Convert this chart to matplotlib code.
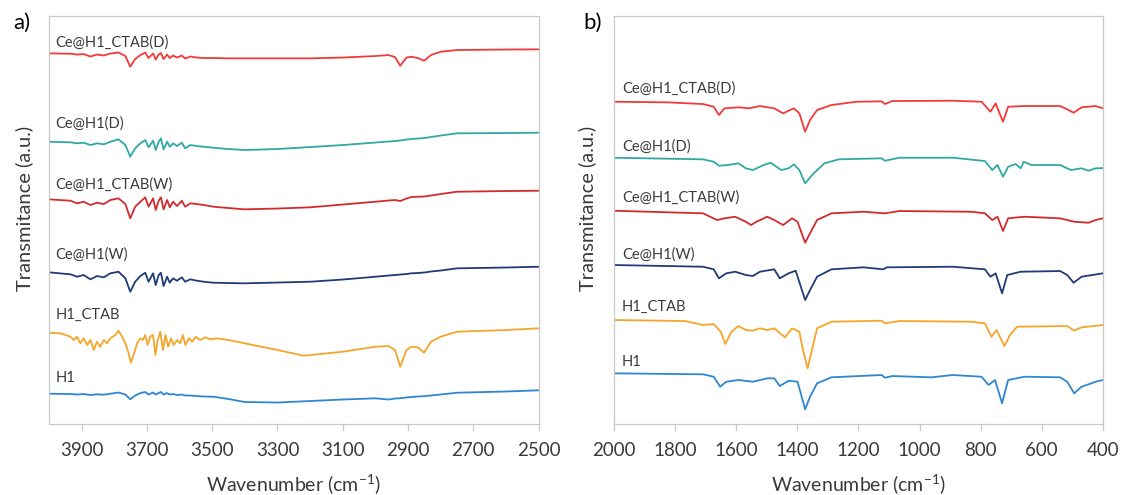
import matplotlib
matplotlib.use('Agg')
import matplotlib.pyplot as plt

plt.rcParams['font.family'] = ['Lato', 'DejaVu Sans']
plt.rcParams['mathtext.fontset'] = 'custom'
plt.rcParams['mathtext.rm'] = 'Lato'

# ---- panel a) 4000-2500 cm-1, shared wavenumber grid ----
wn_a = [4000, 3934, 3914, 3894, 3873, 3853, 3832, 3812, 3787, 3766,
        3751, 3736, 3720, 3705, 3695, 3681, 3673, 3664, 3657, 3649,
        3638, 3630, 3620, 3608, 3593, 3583, 3567, 3547, 3526, 3496,
        3450, 3400, 3300, 3200, 3100, 3000, 2960, 2940, 2924, 2905,
        2890, 2870, 2851, 2830, 2800, 2750, 2600, 2500]

a_ctab_d = [370.7, 370.3, 369.5, 370, 367.5, 369.5, 368.5, 370.5, 371.5, 368,
            357.3, 365, 369, 371.5, 366, 370.5, 364.5, 369.5, 371, 365,
            369.5, 366, 368.5, 366.5, 368.5, 365.5, 367.5, 366.5, 366, 366,
            365.7, 365.7, 365.7, 365.7, 366.5, 368, 369, 367, 358.3, 366.5,
            367.3, 366, 363.3, 369, 372.3, 374, 374.5, 374.7]
a_h1_d = [282.3, 281.7, 280.7, 281.3, 279, 280.7, 279.7, 282.3, 284.7, 279,
          267.3, 275.7, 280.7, 284, 276.7, 283.3, 274, 282.3, 285.7, 274.7,
          282.3, 277.3, 280.7, 278, 281.3, 275.7, 279, 278, 277.3, 276.3,
          275, 274, 275, 277, 279, 281.5, 282.5, 283, 283.5, 284.5,
          285, 285.5, 286, 287, 288.5, 290.7, 291, 291.3]
a_ctab_w = [224.7, 223.3, 220.7, 222.3, 219, 221.3, 220, 224, 225.7, 220,
            205.7, 217.3, 222.3, 226.7, 217.3, 225.7, 214, 223.3, 226.7, 214.7,
            224, 216.7, 222.3, 218, 223.3, 217.3, 220.7, 220, 219, 217.3,
            216, 214.7, 215.5, 216.7, 219.5, 222.3, 223.5, 224, 223, 225.5,
            227, 227.3, 227.5, 228.5, 230, 232.3, 233, 233.3]
a_h1_w = [151.7, 149.7, 147.3, 149, 144.7, 148, 146.7, 150.7, 152.3, 145.7,
          132.3, 142.3, 148, 151.3, 142.3, 150.7, 139, 149, 151.3, 138,
          147.3, 141.3, 145.7, 143.3, 146.7, 142.3, 144.7, 143.3, 142.3, 141.3,
          141, 140.7, 141.5, 142.3, 144.5, 147.3, 148.5, 149, 149.5, 150,
          150.7, 151, 151.5, 152.5, 153.5, 155.7, 156.5, 157.3]
a_h1 = [30.3, 30, 29.5, 30, 29, 29.7, 29.3, 30.3, 31.5, 29.5,
        24.7, 28.5, 31, 32, 29.5, 31.5, 29.5, 31, 32, 29.5,
        31, 29.5, 30, 29, 29.5, 28.5, 28.5, 28, 27.5, 27.3,
        25, 22, 21.5, 23, 24.5, 25.7, 24.5, 25.5, 25.8, 26.5,
        27, 27.5, 27.8, 28.5, 29.5, 31.3, 32.5, 33.7]

# H1_CTAB has its own, denser grid (strongest water-vapour wiggles)
wn_a_ctab = [4000, 3965, 3934, 3924, 3914, 3904, 3894, 3883, 3873, 3863,
             3853, 3843, 3832, 3822, 3812, 3797, 3787, 3776, 3766, 3756,
             3749, 3741, 3730, 3720, 3712, 3705, 3698, 3690, 3681, 3674,
             3667, 3659, 3651, 3643, 3635, 3626, 3618, 3608, 3598, 3590,
             3582, 3571, 3561, 3551, 3537, 3521, 3506, 3485, 3450, 3400,
             3300, 3220, 3100, 3000, 2960, 2940, 2924, 2905, 2890, 2870,
             2851, 2830, 2800, 2750, 2600, 2500]
a_h1_ctab = [91.3, 90.7, 87.3, 84, 87.3, 80.7, 85.7, 79, 84, 74,
             82.3, 77.3, 84, 80.7, 85.7, 89, 93.3, 87.3, 80.7, 70.7,
             61.3, 69, 80.7, 85.7, 84, 89, 79, 87.3, 89, 69,
             84, 92.3, 74, 89, 77.3, 85.7, 79, 84, 80.7, 89,
             79, 85.7, 82.3, 87.3, 84, 86.7, 84.7, 85.7, 84, 80.7,
             74, 68.3, 72.3, 77.3, 78, 74, 57.3, 74, 77.3, 76.7,
             71.3, 82.3, 87.3, 92.3, 94, 95.7]

# ---- panel b) 2000-400 cm-1 ----
wn_b_ctab_d = [2000, 1825, 1708, 1673, 1656, 1638, 1592, 1557, 1522, 1475,
               1446, 1411, 1393, 1374, 1358, 1335, 1288, 1206, 1124, 1113,
               1089, 891, 797, 768, 751, 727, 710, 657, 540, 517,
               496, 470, 424, 400]
b_ctab_d = [322.3, 321.7, 320, 317.3, 309, 315.7, 316.7, 315.7, 318, 315.7,
            310.7, 315.7, 310.7, 292.3, 304, 314, 319, 322.3, 322.7, 320,
            323, 323.3, 322.3, 312.3, 320.7, 302.3, 317.3, 318, 318, 314.7,
            311.3, 316.7, 318, 315.7]

wn_b_h1_d = [2000, 1708, 1673, 1656, 1627, 1592, 1568, 1545, 1510, 1487,
             1452, 1428, 1411, 1393, 1374, 1346, 1311, 1264, 1124, 1113,
             1066, 891, 786, 762, 745, 727, 710, 686, 669, 659,
             634, 540, 505, 470, 447, 424, 400]
b_h1_d = [266.3, 264.7, 262.3, 258.3, 259, 260.7, 255.7, 254, 259, 261.3,
          254, 255.7, 259.7, 254, 240.7, 250.7, 260.7, 264.7, 265.7, 263.3,
          266.3, 266.3, 263, 254, 259, 247.3, 257.3, 260, 255.7, 262.3,
          259, 259, 254, 255.7, 253.3, 255.7, 256]

wn_b_ctab_w = [2000, 1708, 1662, 1638, 1603, 1568, 1551, 1533, 1498, 1475,
               1446, 1417, 1399, 1374, 1358, 1335, 1288, 1183, 1113, 1066,
               832, 786, 762, 745, 727, 710, 657, 540, 494, 447,
               424, 400]
b_ctab_w = [213.3, 210.7, 204, 205.7, 207.3, 202.3, 199, 202.3, 207.3, 204,
            199, 205.7, 202.3, 181.3, 190.7, 204, 210.7, 212.3, 210.7, 213,
            212.3, 210.7, 204, 207.3, 193, 205.7, 207.3, 205.7, 202.3, 201.3,
            204, 205.7]

wn_b_h1_w = [2000, 1708, 1673, 1656, 1632, 1603, 1568, 1545, 1522, 1475,
             1457, 1428, 1405, 1374, 1358, 1335, 1288, 1183, 1119, 1107,
             891, 786, 768, 751, 730, 713, 669, 540, 517, 496,
             470, 435, 400]
b_h1_w = [159, 157.3, 154.7, 145.7, 150.7, 152.3, 149, 148, 152.3, 154.7,
          145.7, 150.7, 153.3, 124, 134, 147.3, 154.7, 156.7, 154.7, 156.7,
          157.3, 154.7, 147.3, 150.7, 130.7, 149, 152.3, 153, 149, 141.3,
          147.3, 149, 150.7]

wn_b_h1_ctab = [2000, 1767, 1708, 1673, 1650, 1635, 1615, 1592, 1568, 1545,
                1522, 1498, 1475, 1440, 1417, 1393, 1381, 1366, 1352, 1335,
                1288, 1124, 1113, 1066, 832, 786, 765, 748, 722, 704,
                681, 517, 494, 470, 400]
b_h1_ctab = [104, 103, 99, 100, 92.3, 80, 92.3, 98, 94, 93.3,
             95.7, 94, 95.7, 86.7, 95.7, 92.3, 74, 55.7, 74, 95.7,
             102.3, 103.3, 100.7, 103, 102.3, 100.7, 87.3, 94, 78, 89,
             97.3, 98, 93.3, 96.7, 99]

wn_b_h1 = [2000, 1708, 1673, 1652, 1632, 1592, 1545, 1498, 1475, 1457,
           1428, 1399, 1374, 1358, 1335, 1288, 1124, 1113, 1089, 961,
           891, 797, 774, 753, 730, 710, 657, 540, 517, 494,
           470, 447, 424, 400]
b_h1 = [50.7, 49.7, 47.3, 37.3, 42.3, 44, 42.3, 45.7, 45.7, 38,
        43.3, 42.3, 14.7, 27.3, 40.7, 46.7, 49, 46.3, 48, 46.7,
        49, 47.3, 39, 44, 20.7, 44, 47.3, 46.7, 42.3, 30.7,
        37.3, 39.7, 42.3, 44]

names = ['Ce@H1_CTAB(D)', 'Ce@H1(D)', 'Ce@H1_CTAB(W)', 'Ce@H1(W)', 'H1_CTAB', 'H1']
colors = ['#f23a3a', '#2ea9a5', '#d12b2e', '#1f3b78', '#f5a52a', '#2f86d2']
label_y_a = [381.7, 300.7, 239.7, 169, 109, 46.3]
label_y_b = [335.7, 277.3, 226.3, 169, 117.3, 62.3]

series_a = [(wn_a, a_ctab_d), (wn_a, a_h1_d), (wn_a, a_ctab_w),
            (wn_a, a_h1_w), (wn_a_ctab, a_h1_ctab), (wn_a, a_h1)]
series_b = [(wn_b_ctab_d, b_ctab_d), (wn_b_h1_d, b_h1_d), (wn_b_ctab_w, b_ctab_w),
            (wn_b_h1_w, b_h1_w), (wn_b_h1_ctab, b_h1_ctab), (wn_b_h1, b_h1)]

text_col = '#3a3a3a'
fig = plt.figure(figsize=(11.21, 4.95), dpi=100)
ax_a = fig.add_axes([0.0437, 0.1434, 0.4368, 0.8248])
ax_b = fig.add_axes([0.5475, 0.1434, 0.4364, 0.8248])


def style_panel(ax, series, label_y, xlim, ticks, label_x):
    for (wn, vals), name, col, ly in zip(series, names, colors, label_y):
        ax.plot(wn, vals, color=col, lw=1.3)
        ax.text(label_x, ly, name, color=text_col, fontsize=10.5,
                ha='left', va='center')
    ax.set_xlim(*xlim)
    ax.set_ylim(0, 408.3)
    ax.set_xticks(ticks)
    ax.set_yticks([])
    for sp in ax.spines.values():
        sp.set_color('#c8c8c8')
        sp.set_linewidth(0.9)
    ax.tick_params(axis='x', direction='out', length=5, width=0.9,
                   color='#c8c8c8', labelsize=13.5, labelcolor=text_col, pad=8)
    ax.set_xlabel('Wavenumber (cm$^{-1}$)', fontsize=14, color=text_col)
    ax.xaxis.set_label_coords(0.5, -0.118)
    ax.set_ylabel('Transmitance (a.u.)', fontsize=14.5, color=text_col)


style_panel(ax_a, series_a, label_y_a, (4000, 2500), range(3900, 2400, -200), 3980)
style_panel(ax_b, series_b, label_y_b, (2000, 400), range(2000, 300, -200), 1973)
ax_a.yaxis.set_label_coords(-0.033, 0.529)
ax_b.yaxis.set_label_coords(-0.036, 0.529)

fig.text(22 / 1121, 1 - 23 / 495, 'a)', fontsize=16, color='black', ha='center', va='center')
fig.text(593 / 1121, 1 - 23 / 495, 'b)', fontsize=16, color='black', ha='center', va='center')

fig.savefig('out.png', dpi=100)
